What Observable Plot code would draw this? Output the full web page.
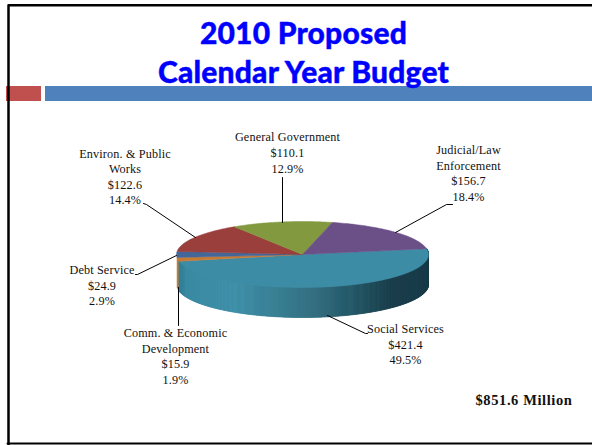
<!DOCTYPE html>
<html>
<head>
<meta charset="utf-8">
<script src="https://cdn.jsdelivr.net/npm/d3@7"></script>
<script src="https://cdn.jsdelivr.net/npm/@observablehq/plot@0.6"></script>
<style>
  html, body { margin: 0; padding: 0; background: #fff; }
  #slide { position: relative; width: 592px; height: 445px; overflow: hidden; }
  #slide svg { position: absolute; left: 0; top: 0; }
  #slide g[font-family="Lato"] { letter-spacing: 0.2px; }
  #slide g[font-family="Liberation Serif"] { letter-spacing: 0.15px; }
  #slide g[font-weight="700"] { letter-spacing: 0.6px; }
</style>
</head>
<body>
<div id="slide"></div>
<script>
// Budget categories in the order the slices run, clockwise from Social Services.
const categories = ["Social Services", "Comm. & Economic\nDevelopment", "Debt Service",
  "Environ. & Public\nWorks", "General Government", "Judicial/Law\nEnforcement"];
const amounts = [421.4, 15.9, 24.9, 122.6, 110.1, 156.7];
const shares = ["49.5%", "1.9%", "2.9%", "14.4%", "12.9%", "18.4%"];
const sliceColors = ["#3c8ca5", "#c67a34", "#44679a", "#9a3f3c", "#83993f", "#6b4f87"];
const titleLines = ["2010 Proposed", "Calendar Year Budget"];
const totalLabel = "$851.6 Million";

// Tilted-disc geometry, in slide pixels.
const cx = 302, cy = 254, rx = 126, ry = 33, depth = 30;
const firstAngle = 80 * Math.PI / 180;

// Label anchors and leader elbows, keyed by slice index.
const labelAt = [[405, 343], [175, 355], [101.5, 284], [124.5, 175.5], [287, 151.5], [468, 172]];
const leaders = [
  [[327, 315], [365, 333], [367, 333]],
  [[178, 287], [178, 325]],
  [[176, 255], [137, 274], [135, 274]],
  [[195, 237], [146, 204], [143, 203]],
  [[282, 222], [282, 177]],
  [[395, 232], [446, 204], [452, 204]]
];

const rim = (a, drop = 0) => [cx + rx * Math.sin(a), cy - ry * Math.cos(a) + drop];

const arcs = d3.pie().sort(null).startAngle(firstAngle).endAngle(firstAngle + 2 * Math.PI)(amounts);

// Top face: one closed polygon for each slice.
const faces = arcs.flatMap((arc, i) => {
  const n = Math.ceil((arc.endAngle - arc.startAngle) / 0.02);
  const ring = d3.range(n + 1).map(k => rim(arc.startAngle + (arc.endAngle - arc.startAngle) * k / n));
  return [[cx, cy], ...ring, [cx, cy]].map(([x, y]) => ({x, y, slice: i, fill: sliceColors[i]}));
});

// Side wall: thin strips shaded by horizontal position, dark toward the right.
const shade = d3.scaleLinear()
  .domain([176, 186, 235, 300, 350, 392, 428])
  .range(["#2f7d95", "#3a8aa3", "#3f90a9", "#357487", "#265a6a", "#1a3d4a", "#1b3d4a"]);
const wallEnd = arcs[0].endAngle;
const strips = [];
const step = 0.008;
for (let a = firstAngle, s = 0; a < wallEnd; a += step, s++) {
  const b = Math.min(a + step + 0.004, wallEnd);
  const [x0] = rim(a);
  [rim(a), rim(b), rim(b, depth), rim(a, depth), rim(a)].forEach(([x, y]) =>
    strips.push({x, y, strip: s, fill: shade(x0)}));
}
// Narrow orange wall just past the large slice, at the far left of the disc.
const orangeWall = [rim(arcs[1].startAngle), rim(arcs[1].endAngle), rim(arcs[1].endAngle, depth),
  rim(arcs[1].startAngle, depth), rim(arcs[1].startAngle)].map(([x, y]) => ({x, y}));

const leaderRows = leaders.flatMap((pts, i) => pts.map(([x, y]) => ({x, y, i})));
const labels = categories.map((name, i) => ({
  text: `${name}\n$${amounts[i].toFixed(1)}\n${shares[i]}`,
  x: labelAt[i][0], y: labelAt[i][1]
}));

const chart = Plot.plot({
  width: 592, height: 445,
  margin: 0,
  x: {domain: [0, 592], range: [0, 592], axis: null},
  y: {domain: [0, 445], range: [0, 445], axis: null},
  marks: [
    // Header bars and slide frame
    Plot.rect([{x1: 6, x2: 41, y1: 86, y2: 101}], {x1: "x1", x2: "x2", y1: "y1", y2: "y2", fill: "#c0504d"}),
    Plot.rect([{x1: 45, x2: 592, y1: 86, y2: 101}], {x1: "x1", x2: "x2", y1: "y1", y2: "y2", fill: "#4f81bd"}),
    Plot.line([[8, 445], [8, 4.7], [592, 4.7]], {x: d => d[0], y: d => d[1], stroke: "#000", strokeWidth: 2.5}),
    Plot.line([[7, 443], [592, 443]], {x: d => d[0], y: d => d[1], stroke: "#000", strokeWidth: 2}),
    Plot.text(titleLines, {
      x: 303, y: (d, i) => [33.5, 72.5][i], text: d => d,
      fontFamily: "Lato", fontWeight: 900, fontSize: 30, fill: "#0000ff", stroke: "#0000ff", strokeWidth: 0.4
    }),
    // Disc
    Plot.line(orangeWall, {x: "x", y: "y", fill: "#c67a34", stroke: "#c67a34", strokeWidth: 0.5}),
    Plot.line(strips, {x: "x", y: "y", z: "strip", fill: "fill", stroke: "fill", strokeWidth: 0.5}),
    Plot.line(faces, {x: "x", y: "y", z: "slice", fill: "fill", stroke: "fill", strokeWidth: 0.5, curve: "linear"}),
    // Leaders and labels
    Plot.line(leaderRows, {x: "x", y: "y", z: "i", stroke: "#000", strokeWidth: 1}),
    Plot.text(labels, {
      x: "x", y: "y", text: "text", lineHeight: 1.28,
      fontFamily: "Liberation Serif", fontSize: 12.2, fill: "#111"
    }),
    Plot.text([totalLabel], {
      x: 572, y: 400, text: d => d, textAnchor: "end",
      fontFamily: "Liberation Serif", fontWeight: 700, fontSize: 14.5, fill: "#111"
    })
  ]
});
document.getElementById("slide").appendChild(chart);
</script>
</body>
</html>
